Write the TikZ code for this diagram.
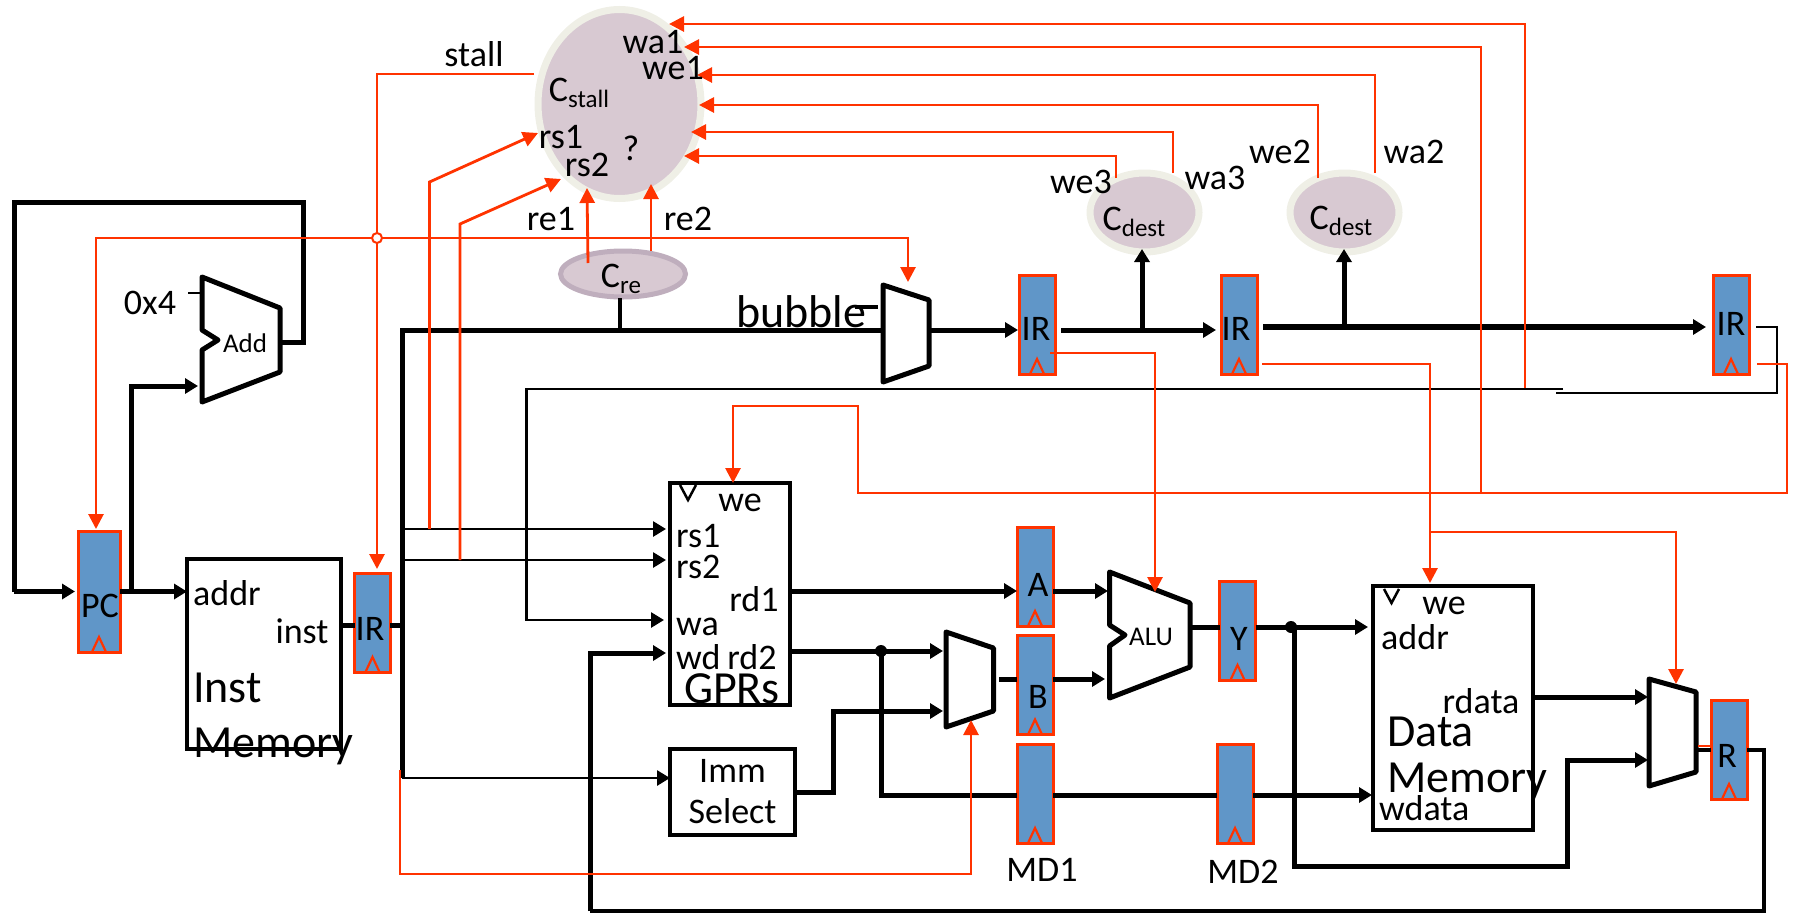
\documentclass[tikz,border=0pt]{standalone}
\usepackage{xcolor}
\usepackage{fontspec}
\setmainfont{Carlito}
\usetikzlibrary{shapes.geometric, arrows.meta, calc}

\definecolor{ctlred}{HTML}{FF3300}
\definecolor{regblue}{HTML}{6096C8}
\definecolor{ctlfill}{HTML}{D8C9D2}
\definecolor{ctledge}{HTML}{EFEFE6}
\definecolor{creedge}{HTML}{BFAEBD}

\newcommand{\lowtxt}[1]{\raisebox{-6pt}{\fontsize{25}{25}\selectfont #1}}

\begin{document}
\begin{tikzpicture}[
    x=1pt, y=-1pt,
    reg/.style={rectangle, draw=ctlred, fill=regblue, line width=3pt, inner sep=0pt, outer sep=0pt, minimum width=36pt, minimum height=99pt,
        path picture={\draw[ctlred, line width=2.2pt] ($(path picture bounding box.south)+(-7,0)$) -- ++(7,-15) -- ++(7,15);}},
    unit/.style={rectangle, draw, line width=4.5pt, inner sep=0pt, outer sep=0pt},
    ctl/.style={ellipse, draw=ctledge, fill=ctlfill, line width=7pt, inner sep=0pt, outer sep=0pt},
    txt/.style={inner sep=0pt, font=\fontsize{36}{41}\selectfont},
    bigtxt/.style={inner sep=0pt, align=left, font=\fontsize{46}{55}\selectfont},
    smalltxt/.style={inner sep=0pt, font=\fontsize{27}{30}\selectfont},
    blk/.style={line width=5pt, line join=miter},
    thin/.style={line width=2.8pt},
    red/.style={draw=ctlred, line width=2.8pt},
    blkarr/.style={blk, -{Triangle[length=13pt, width=15pt]}},
    thinarr/.style={thin, -{Triangle[length=13pt, width=15pt]}},
    redarr/.style={red, -{Triangle[length=15pt, width=15pt, fill=ctlred]}},
]
    \useasboundingbox (0,0) rectangle (1798,913);

    % Control bubbles
    \node[ctl, minimum width=163pt, minimum height=189pt] (cstall) at (619.5,104) {};
    \node[ctl, draw=creedge, line width=5pt, minimum width=125pt, minimum height=46pt] (cre) at (623,274) {};
    \node[ctl, minimum width=109pt, minimum height=79pt] (cdesta) at (1144.5,212.5) {};
    \node[ctl, minimum width=109pt, minimum height=79pt] (cdestb) at (1344.5,212.5) {};

    % Pipeline registers
    \node[reg, minimum width=42pt, minimum height=121pt] (pc) at (99,591.5) {};
    \node[reg] (irf) at (372.5,622.5) {};
    \node[reg] (ird) at (1037,324.5) {};
    \node[reg] (irx) at (1239,324.5) {};
    \node[reg] (irw) at (1731,324.5) {};
    \node[reg] (rega) at (1035,576.5) {};
    \node[reg] (regb) at (1035,685) {};
    \node[reg] (regmda) at (1035,793.5) {};
    \node[reg] (regmdb) at (1235,793.5) {};
    \node[reg] (regy) at (1237.5,630.5) {};
    \node[reg] (regr) at (1729,749.5) {};

    % Memories and register file
    \node[unit, minimum width=154pt, minimum height=190pt] (imem) at (264,654) {};
    \node[unit, minimum width=120pt, minimum height=222pt] (gprs) at (730,594) {};
    \node[unit, minimum width=125pt, minimum height=86pt, align=center, font=\fontsize{36}{41}\selectfont] (immsel) at (732.5,792) {Imm\\Select};
    \node[unit, minimum width=160pt, minimum height=244pt] (dmem) at (1453,708) {};

    % Adder, ALU and muxes
    \draw[blk, line join=round] (202,277) -- (280,308) -- (280,372) -- (202,402) -- (202,350) -- (218,340) -- (202,330) -- cycle;
    \draw[blk, line join=round] (1109.5,572) -- (1190,603) -- (1190,667) -- (1109.5,698) -- (1109.5,646) -- (1125,635) -- (1109.5,625) -- cycle;
    \draw[blk, line join=round] (883,285) -- (929,300) -- (929,366) -- (883,382) -- cycle;
    \draw[blk, line join=round] (946,632) -- (993.5,648) -- (993.5,711) -- (946,727) -- cycle;
    \draw[blk, line join=round] (1649,679) -- (1696,692) -- (1696,772) -- (1649,786) -- cycle;
    \draw[line width=2.5pt] (680,485) -- (688,500) -- (696,485);
    \draw[line width=2.5pt] (1384,589) -- (1391.5,603) -- (1399,589);

    % Ports
    \coordinate (addout) at (281,342);
    \coordinate (addina) at (198,386);
    \coordinate (irfout) at (390,625);
    \coordinate (irfin) at (343,625);
    \coordinate (decbus) at (402,625);
    \coordinate (muxbin) at (881,330);
    \coordinate (crestem) at (620,298);
    \coordinate (cdestain) at (1142,249);
    \coordinate (cdestbin) at (1344,249);
    \coordinate (rsatap) at (402,529);
    \coordinate (rsbtap) at (402,560);
    \coordinate (immtap) at (402,778);
    \coordinate (rsain) at (666,529);
    \coordinate (rsbin) at (666,560);
    \coordinate (wain) at (664,620);
    \coordinate (wdin) at (666,653);
    \coordinate (rdaout) at (790,591);
    \coordinate (rdbout) at (790,651);
    \coordinate (rdbdot) at (881,651);
    \coordinate (muxain) at (943,651);
    \coordinate (muxaimm) at (943,711);
    \coordinate (muxaout) at (999,679);
    \coordinate (aluina) at (1108,591);
    \coordinate (aluinb) at (1105,679);
    \coordinate (aluout) at (1190,627);
    \coordinate (ydot) at (1291,627);
    \coordinate (addrin) at (1368,627);
    \coordinate (wdatain) at (1372,795);
    \coordinate (rdataout) at (1533,697);
    \coordinate (wbina) at (1648,697);
    \coordinate (wbinb) at (1648,760);
    \coordinate (wbout) at (1698,746);
    \coordinate (wboutb) at (1698,750);

    % Datapath
    \draw[blk] (addout) -- (303,342) -- (303,202) -- (14,202) -- (14,591.5);
    \draw[blkarr] (14,591.5) -- ($(pc.west)+(-3,0)$);
    \draw[blkarr] (pc.east) -- (imem.west |- pc.east);
    \draw[blkarr] (131,591.5) |- (addina);
    \draw[blk] (imem.east |- irfin) -- (irf.west |- irfin);
    \draw[blk] (irfout) -- (decbus);
    \draw[blk] (immtap) -- (402,330) -- (muxbin);
    \draw[line width=4pt] (crestem) -- (crestem |- muxbin);
    \draw[thinarr] (rsatap) -- (rsain);
    \draw[thinarr] (rsbtap) -- (rsbin);
    \draw[thinarr] (immtap) -- (immsel.west |- immtap);
    \draw[line width=4pt] (855,307) -- (878,307);
    \draw[thin] (188,293) -- (202,293);
    \draw[blkarr] (929,330) -- ($(ird.west)+(-1,5.5)$);
    \draw[blkarr] (1061,330) -- (1216,330);
    \draw[blkarr, line width=6pt] (1263,327) -- (1706,327);
    \draw[blkarr] (1142,330) -- (cdestain);
    \draw[blkarr] (1344,327) -- (cdestbin);

    \draw[blkarr] (rdaout) -- (rega.west |- rdaout);
    \draw[blkarr] (rega.east |- aluina) -- (aluina);
    \draw[blkarr] (rdbout) -- (muxain);
    \draw[blk] (rdbdot) |- (regmda.west |- 0,795);
    \draw[blk] (regmda.east |- 0,795) -- (regmdb.west |- 0,795);
    \draw[blkarr] (regmdb.east |- 0,795) -- (wdatain);
    \draw[blkarr] (immsel.east) -| (833.5,711) -- (muxaimm);
    \draw[blk] (muxaout) -- (regb.west |- muxaout);
    \draw[blkarr] (regb.east |- aluinb) -- (aluinb);
    \draw[blk] (aluout) -- (regy.west |- aluout);
    \draw[blkarr] (regy.east |- addrin) -- (addrin);
    \draw[blkarr] (ydot) ++(3,0) |- (1567,866) |- (wbinb);
    \draw[blkarr] (rdataout) -- (wbina);
    \draw[blkarr] (590,911) |- (wdin);
    \draw[line width=3.5pt] (590,911) -- (1764,911) |- (regr.east |- wboutb);
    \draw[line width=4pt] (wboutb) -- (regr.west |- wboutb);
    \draw[red, line width=2pt] (wbout) -- (regr.west |- wbout);
    \fill (rdbdot) circle (6pt);
    \fill (ydot) circle (6pt);

    % Instruction feedback to wa
    \draw[thin] (irw.east |- 0,327) ++(7,0) -| (1777,393) -- (1556,393);
    \draw[thinarr] (1563,389) -| (526.5,620) -- (wain);

    % Control lines into Cstall
    \draw[redarr] (1525,388) |- (669,24);
    \draw[redarr] (1481,493) |- (684,47);
    \draw[redarr] (1375,173) |- (697,75);
    \draw[redarr] (1318,178) |- (699,105);
    \draw[redarr] (1173,173) |- (691,132);
    \draw[redarr] (1116,178) |- (684,156);
    \draw[redarr] (rsatap -| 429.5,0) -- (429.5,182) -- (538,133);
    \draw[redarr] (rsbtap -| 460,0) -- (460,224) -- (561,179);
    \draw[redarr] (588,263) -- (587,188);
    \draw[redarr] (651,251) -- (651,184);

    % Stall
    \node[circle, draw=ctlred, fill=white, line width=2pt, minimum size=10pt, inner sep=0pt] (stalldot) at (377,238) {};
    \draw[red] (534,74) -| (stalldot.north);
    \draw[redarr] (stalldot.south) -- (377,569);
    \draw[redarr] (stalldot.west) -| (96,529);
    \draw[redarr] (stalldot.east) -| (908,282);

    % Write enables and mux selects
    \draw[redarr] (1050,353) -| (1155,592);
    \draw[redarr] (1262,364) -| (1430,583);
    \draw[redarr] (1429,532) -| (1676,684);
    \draw[redarr] (1757,364) -| (1787,493) -| (858,406) -| (733,483);
    \draw[redarr] (400,770) |- (971,874) -- (971,720);

    % Labels
    \node[txt] (stalllab) at (474,54) {stall};
    \node[txt] (cstalllab) at (579,93) {C\lowtxt{stall}};
    \node[txt] (walab) at (653,42) {wa1};
    \node[txt] (welab) at (673,68) {we1};
    \node[txt] (rsalab) at (561,137) {rs1};
    \node[txt] (rsblab) at (587,165) {rs2};
    \node[txt] (qmark) at (631,148) {?};
    \node[txt] (realab) at (551,219) {re1};
    \node[txt] (reblab) at (688,219) {re2};
    \node[txt] (crelab) at (621,279) {C\lowtxt{re}};
    \node[txt] (cdestalab) at (1134,222) {C\lowtxt{dest}};
    \node[txt] (cdestblab) at (1341,221) {C\lowtxt{dest}};
    \node[txt] (wethreelab) at (1081,182) {we3};
    \node[txt] (wathreelab) at (1215,178) {wa3};
    \node[txt] (wetwolab) at (1280,152) {we2};
    \node[txt] (watwolab) at (1414,152) {wa2};
    \node[txt] (fourlab) at (150,303) {0x4};
    \node[smalltxt] (addlab) at (245,343) {Add};
    \node[smalltxt] (alulab) at (1151,637) {ALU};
    \node[bigtxt, anchor=base west] (bubblelab) at (736,327) {bubble};
    \node[txt] (pclab) at (100,606) {PC};
    \node[txt] (irflab) at (370,629) {IR};
    \node[txt] (irdlab) at (1036,329) {IR};
    \node[txt] (irxlab) at (1236,329) {IR};
    \node[txt] (irwlab) at (1731,324) {IR};
    \node[txt] (alab) at (1038,585) {A};
    \node[txt] (blab) at (1038,697) {B};
    \node[txt] (ylab) at (1239,639) {Y};
    \node[txt] (rlab) at (1727,756) {R};
    \node[txt] (mdalab) at (1042,870) {MD1};
    \node[txt] (mdblab) at (1243,872) {MD2};
    \node[txt, anchor=west] (addrlab) at (193,593) {addr};
    \node[txt] (instlab) at (302,631) {inst};
    \node[bigtxt, anchor=north west] (imemlab) at (193,673) {Inst\\Memory};
    \node[txt] (gwelab) at (740,503) {we};
    \node[txt, anchor=west] (grsalab) at (676,536) {rs1};
    \node[txt, anchor=west] (grsblab) at (676,567) {rs2};
    \node[txt] (grdalab) at (754,599) {rd1};
    \node[txt, anchor=west] (gwalab) at (676,627) {wa};
    \node[txt, anchor=west] (gwdlab) at (676,657) {wd};
    \node[txt] (grdblab) at (752,657) {rd2};
    \node[txt, font=\fontsize{46}{46}\selectfont] (gprlab) at (732,689) {GPRs};
    \node[txt] (dwelab) at (1444,606) {we};
    \node[txt, anchor=west] (daddrlab) at (1381,637) {addr};
    \node[txt] (drdatalab) at (1481,701) {rdata};
    \node[bigtxt, anchor=north west, font=\fontsize{46}{46}\selectfont] (dmemlab) at (1387,717) {Data\\Memory};
    \node[txt, anchor=west] (dwdatalab) at (1379,808) {wdata};
\end{tikzpicture}
\end{document}
